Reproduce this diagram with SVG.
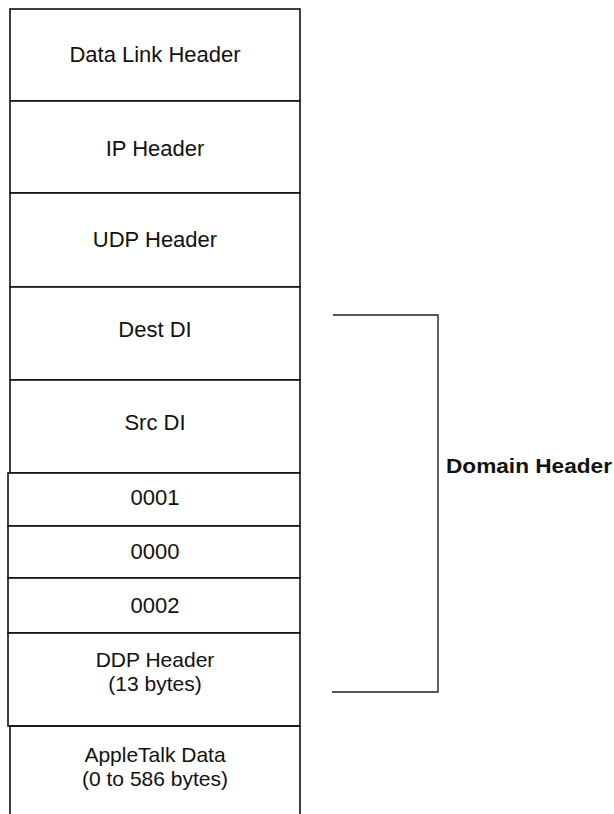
<svg xmlns="http://www.w3.org/2000/svg" width="614" height="814" viewBox="0 0 614 814">
<style>
.box{fill:#fff;stroke:#111;stroke-width:1.6}
.lbl{font-family:"Liberation Sans",Arial,sans-serif;font-size:22px;fill:#111;text-anchor:middle}
.two{font-size:21px}
.br{fill:none;stroke:#222;stroke-width:1.4}
.dh{font-family:"Liberation Sans",Arial,sans-serif;font-size:21px;font-weight:bold;fill:#111}
</style>
<rect width="614" height="814" fill="#fff"/>
<g id="datalink"><rect class="box" x="10" y="9" width="290" height="92"/><text class="lbl" x="155" y="62">Data Link Header</text></g>
<g id="ip"><rect class="box" x="10" y="101" width="290" height="92"/><text class="lbl" x="155" y="156">IP Header</text></g>
<g id="udp"><rect class="box" x="10" y="193" width="290" height="94"/><text class="lbl" x="155" y="247">UDP Header</text></g>
<g id="destdi"><rect class="box" x="10" y="287" width="290" height="93"/><text class="lbl" x="155" y="337">Dest DI</text></g>
<g id="srcdi"><rect class="box" x="10" y="380" width="290" height="93"/><text class="lbl" x="155" y="430">Src DI</text></g>
<g id="f0001"><rect class="box" x="8" y="473" width="292" height="53"/><text class="lbl" x="155" y="505">0001</text></g>
<g id="f0000"><rect class="box" x="8" y="526" width="292" height="52"/><text class="lbl" x="155" y="559">0000</text></g>
<g id="f0002"><rect class="box" x="8" y="578" width="292" height="55"/><text class="lbl" x="155" y="613">0002</text></g>
<g id="ddp"><rect class="box" x="8" y="633" width="292" height="93"/><text class="lbl two" x="155" y="667">DDP Header</text><text class="lbl two" x="155" y="691">(13 bytes)</text></g>
<g id="appletalk"><path d="M10,815 V726 H300 V815" fill="none" stroke="#111" stroke-width="1.6"/><text class="lbl two" x="155" y="762">AppleTalk Data</text><text class="lbl two" x="155" y="786">(0 to 586 bytes)</text></g>
<g id="connectors"><path class="br" d="M333,315 H438 V692 H332"/></g>
<g id="domain"><text class="dh" x="446" y="473" textLength="166" lengthAdjust="spacingAndGlyphs">Domain Header</text></g>
</svg>
